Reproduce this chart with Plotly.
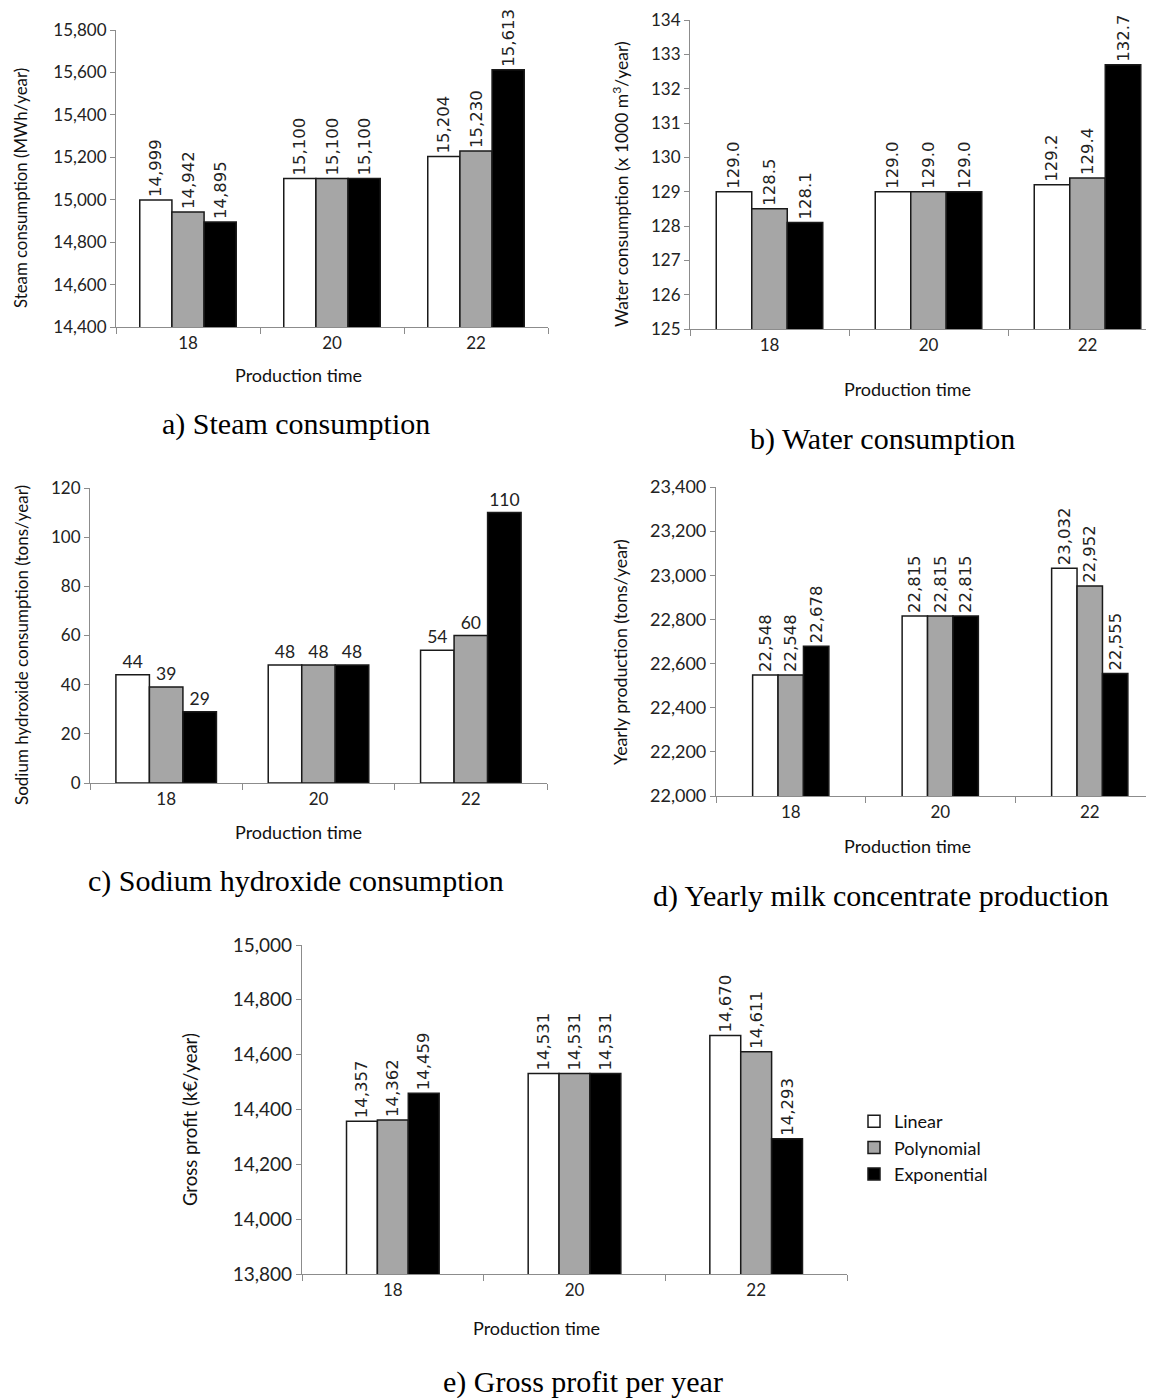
import plotly.graph_objects as go

# ---------------- data ----------------
categories = ["18", "20", "22"]
series_names = ["Linear", "Polynomial", "Exponential"]

steam_linear = [14999, 15100, 15204]
steam_poly = [14942, 15100, 15230]
steam_exp = [14895, 15100, 15613]

water_linear = [129.0, 129.0, 129.2]
water_poly = [128.5, 129.0, 129.4]
water_exp = [128.1, 129.0, 132.7]

naoh_linear = [44, 48, 54]
naoh_poly = [39, 48, 60]
naoh_exp = [29, 48, 110]

milk_linear = [22548, 22815, 23032]
milk_poly = [22548, 22815, 22952]
milk_exp = [22678, 22815, 22555]

profit_linear = [14357, 14531, 14670]
profit_poly = [14362, 14531, 14611]
profit_exp = [14459, 14531, 14293]

# ---------------- styling ----------------
W, H = 1154, 1398
OFF = 8  # page body margin offset of the figure inside the browser window
fill_colors = ["#ffffff", "#a6a6a6", "#000000"]
axis_gray = "#8c8c8c"
LABEL_FONT = dict(family="DejaVu Sans", size=16.5, color="#222222")


def tick_font(size):
    return dict(family="Lato", size=size, color="#222222")


def px_x(p):
    return (p - OFF) / W


def px_y(p):
    return 1 - (p - OFF) / H


fig = go.Figure()

right_edge = W + OFF  # window px where the figure's right edge lands

panels = [
    dict(series=[steam_linear, steam_poly, steam_exp], fmt="%{y:,}", angle=-90,
         xd=(116, 548), yd=(30, 327), yr=[14400, 15800], dt=200, xr=[-0.5, 2.5], gap=0.33,
         tickfmt=",", label_font=LABEL_FONT, tfx=17, tfy=17),
    dict(series=[water_linear, water_poly, water_exp], fmt="%{y:.1f}", angle=-90,
         xd=(690, right_edge), yd=(20, 329), yr=[125, 134], dt=1,
         xr=[-0.5, (right_edge - 690) / 159 - 0.5], gap=0.33,
         tickfmt="d", label_font=LABEL_FONT, tfx=17, tfy=17),
    dict(series=[naoh_linear, naoh_poly, naoh_exp], fmt="%{y}", angle=0,
         xd=(90, 547), yd=(488, 783), yr=[0, 120], dt=20, xr=[-0.5, 2.5], gap=0.34,
         tickfmt="d", label_font=dict(family="Lato", size=17.5, color="#222222"), tfx=17, tfy=17),
    dict(series=[milk_linear, milk_poly, milk_exp], fmt="%{y:,}", angle=-90,
         xd=(716, right_edge), yd=(487, 796), yr=[22000, 23400], dt=200,
         xr=[-0.5, (right_edge - 716) / 149.5 - 0.5], gap=0.49,
         tickfmt=",", label_font=LABEL_FONT, tfx=17, tfy=18),
    dict(series=[profit_linear, profit_poly, profit_exp], fmt="%{y:,}", angle=-90,
         xd=(302, 847), yd=(945, 1274), yr=[13800, 15000], dt=200, xr=[-0.5, 2.5], gap=0.49,
         tickfmt=",", label_font=LABEL_FONT, tfx=17, tfy=19),
]

layout_axes = {}
for i, p in enumerate(panels):
    n = i + 1
    xname = "x" if n == 1 else f"x{n}"
    yname = "y" if n == 1 else f"y{n}"
    bw = (1 - p["gap"]) / 3
    for s_idx, (vals, name) in enumerate(zip(p["series"], series_names)):
        fig.add_trace(go.Bar(
            x=categories, y=vals, name=name,
            xaxis=xname, yaxis=yname,
            width=bw, offset=-(1 - p["gap"]) / 2 + s_idx * bw,
            marker=dict(color=fill_colors[s_idx], line=dict(color="#1a1a1a", width=1.5)),
            texttemplate=p["fmt"], textposition="outside", textangle=p["angle"],
            textfont=p["label_font"], constraintext="none", cliponaxis=False,
            showlegend=(n == 5), legendgroup=name,
        ))
    xkey = "xaxis" if n == 1 else f"xaxis{n}"
    ykey = "yaxis" if n == 1 else f"yaxis{n}"
    xd0, xd1 = px_x(p["xd"][0]), min(1.0, px_x(p["xd"][1]))
    layout_axes[xkey] = dict(
        domain=[xd0, xd1], anchor=yname, automargin=False,
        type="category", range=p["xr"], showline=True, linecolor=axis_gray, linewidth=1.2,
        ticks="outside", tickson="boundaries", ticklen=6, tickcolor=axis_gray,
        showgrid=False, zeroline=False, tickfont=tick_font(p["tfx"]),
    )
    layout_axes[ykey] = dict(
        domain=[px_y(p["yd"][1]), px_y(p["yd"][0])], anchor=xname, automargin=False,
        range=p["yr"], dtick=p["dt"], tick0=p["yr"][0], tickformat=p["tickfmt"],
        showline=True, linecolor=axis_gray, linewidth=1.2, ticks="outside", ticklen=5,
        tickcolor=axis_gray, showgrid=False, zeroline=False, tickfont=tick_font(p["tfy"]),
    )

fig.update_layout(**layout_axes)
fig.update_layout(barmode="overlay")

annotations = []
ytitles = [
    ("Steam consumption (MWh/year)", 21, 188, 16.8),
    ("Water consumption (x 1000 m<sup>3</sup>/year)", 620, 184, 17.5),
    ("Sodium hydroxide consumption (tons/year)", 21, 645, 17),
    ("Yearly production (tons/year)", 620, 652, 17.8),
    ("Gross profit (k€/year)", 190, 1120, 18.5),
]
for t, x, y, s in ytitles:
    annotations.append(dict(text=t, x=px_x(x), y=px_y(y), xref="paper", yref="paper",
                            textangle=-90, showarrow=False, xanchor="center", yanchor="middle",
                            font=dict(family="Lato", size=s, color="#111111")))

xtitles = [(298, 375), (907, 389), (298, 832), (907, 846), (536, 1328)]
for x, y in xtitles:
    annotations.append(dict(text="Production time", x=px_x(x), y=px_y(y), xref="paper", yref="paper",
                            showarrow=False, xanchor="center", yanchor="middle",
                            font=dict(family="Lato", size=18, color="#111111")))

captions = [
    ("a) Steam consumption", 296, 424),
    ("b) Water consumption", 882, 439),
    ("c) Sodium hydroxide consumption", 296, 881),
    ("d) Yearly milk concentrate production", 881, 896),
    ("e) Gross profit per year", 583, 1382),
]
for t, x, y in captions:
    annotations.append(dict(text=t, x=px_x(x), y=px_y(y), xref="paper", yref="paper",
                            showarrow=False, xanchor="center", yanchor="middle",
                            font=dict(family="Liberation Serif", size=30, color="#000000")))

fig.update_layout(
    width=W, height=H,
    margin=dict(l=0, r=0, t=0, b=0),
    paper_bgcolor="white", plot_bgcolor="white",
    annotations=annotations,
    legend=dict(x=px_x(854), y=px_y(1103), xanchor="left", yanchor="top",
                font=dict(family="Lato", size=18, color="#111111"),
                itemwidth=30, tracegroupgap=0, bgcolor="rgba(0,0,0,0)"),
)

fig.write_html("out.html")
